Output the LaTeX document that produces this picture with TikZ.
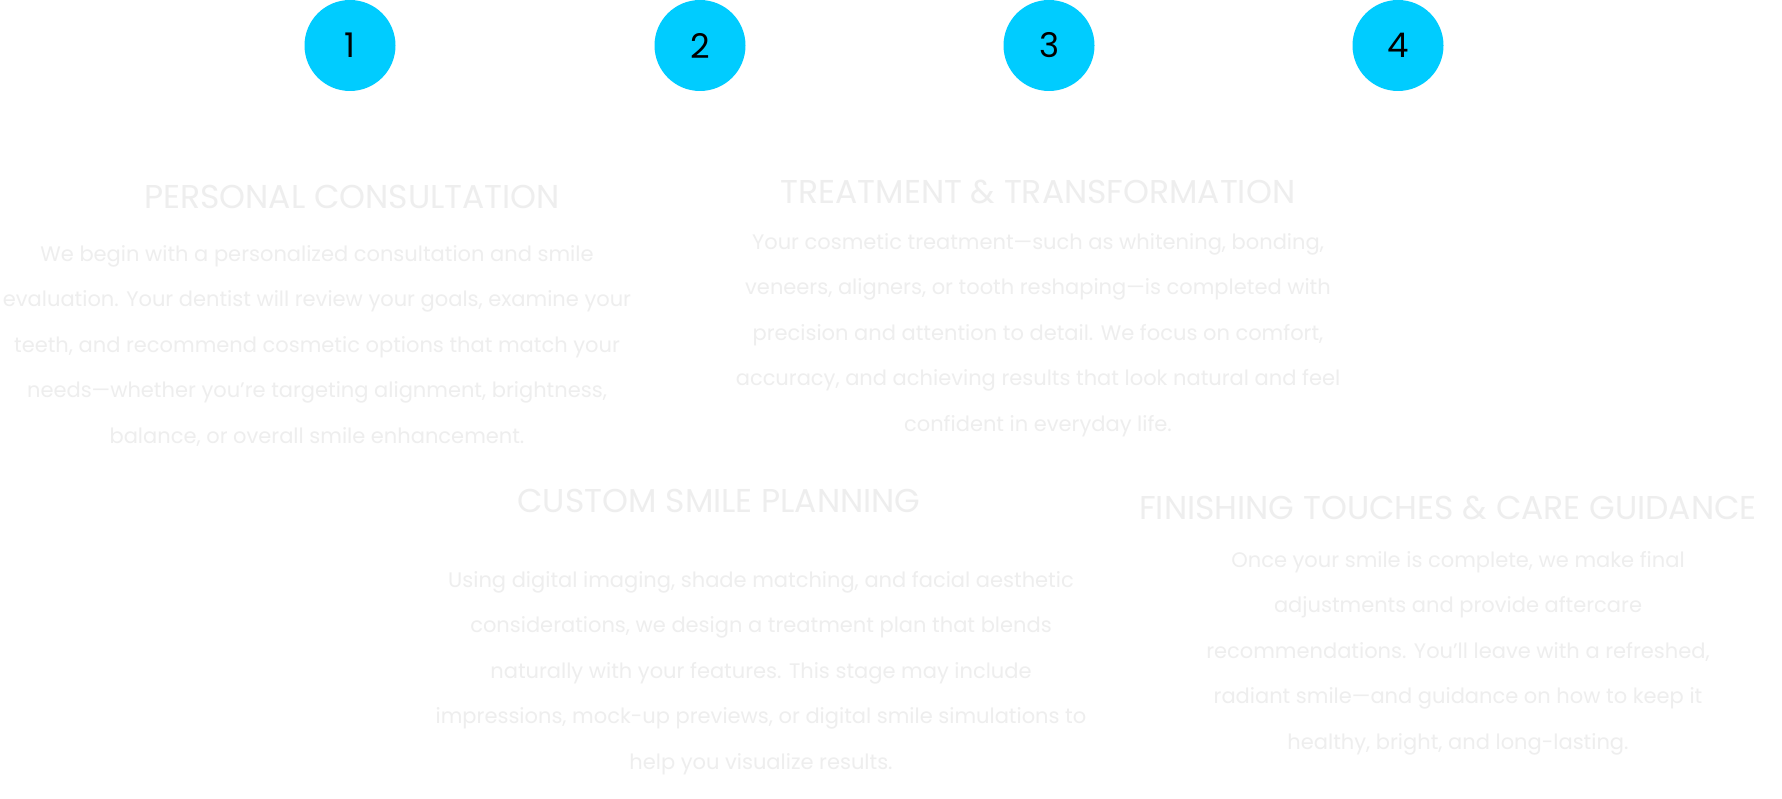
\documentclass[tikz,border=0pt]{standalone}
\usepackage{fontspec}
\setmainfont{Poppins}
\definecolor{cy}{HTML}{00CCFF}
\definecolor{lg}{HTML}{EEEEEE}
\begin{document}
\begin{tikzpicture}[x=1pt,y=-1pt,
  num/.style={circle,fill=cy,minimum size=91pt,inner sep=0pt,font=\fontsize{34}{34}\selectfont,text=black},
  ttl/.style={text=lg,font=\fontsize{33}{33}\selectfont,inner sep=0pt},
  body/.style={text=lg,font=\fontsize{21}{45.5}\selectfont,align=center,inner sep=0pt}]
\useasboundingbox (0,0) rectangle (1782,799);
\fill[white] (0,0) rectangle (1782,799);
\node[num] (n1) at (350,45.5) {1};
\node[num] (n2) at (700,45.5) {2};
\node[num] (n3) at (1049,45.5) {3};
\node[num] (n4) at (1398,45.5) {4};
\node[ttl] (t1) at (352,197) {PERSONAL CONSULTATION};
\node[body] (b1) at (317,346) {We begin with a personalized consultation and smile\\evaluation. Your dentist will review your goals, examine your\\teeth, and recommend cosmetic options that match your\\needs—whether you’re targeting alignment, brightness,\\balance, or overall smile enhancement.};
\node[ttl] (t2) at (719,501) {CUSTOM SMILE PLANNING};
\node[body] (b2) at (761,673) {Using digital imaging, shade matching, and facial aesthetic\\considerations, we design a treatment plan that blends\\naturally with your features. This stage may include\\impressions, mock-up previews, or digital smile simulations to\\help you visualize results.};
\node[ttl] (t3) at (1038,192) {TREATMENT \& TRANSFORMATION};
\node[body] (b3) at (1038,335) {Your cosmetic treatment—such as whitening, bonding,\\veneers, aligners, or tooth reshaping—is completed with\\precision and attention to detail. We focus on comfort,\\accuracy, and achieving results that look natural and feel\\confident in everyday life.};
\node[ttl] (t4) at (1448,508) {FINISHING TOUCHES \& CARE GUIDANCE};
\node[body] (b4) at (1458,653) {Once your smile is complete, we make final\\adjustments and provide aftercare\\recommendations. You’ll leave with a refreshed,\\radiant smile—and guidance on how to keep it\\healthy, bright, and long-lasting.};
\end{tikzpicture}
\end{document}
